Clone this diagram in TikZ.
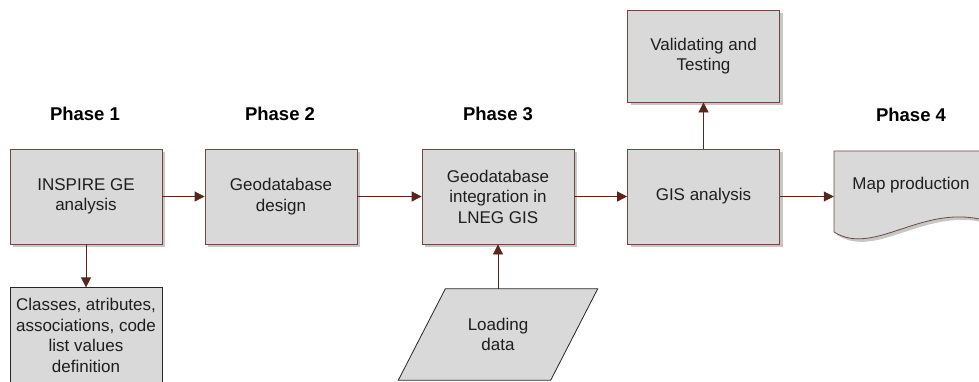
\documentclass[tikz,border=0pt]{standalone}
\usepackage{fontspec}
\setmainfont{Liberation Sans}
\usepackage{xcolor}
\usetikzlibrary{positioning}
\usetikzlibrary{arrows.meta,shadows,backgrounds}

\definecolor{boxgray}{RGB}{217,217,217}
\definecolor{edgebrown}{RGB}{110,72,62}
\definecolor{arrowbrown}{RGB}{88,38,28}
\definecolor{inkgray}{RGB}{30,30,30}

\tikzset{
  stage/.style={draw=edgebrown, line width=0.8pt, fill=boxgray,
    minimum width=152pt, minimum height=95pt, align=center,
    text=inkgray, font=\fontsize{17}{20.5}\selectfont,
    drop shadow={shadow xshift=3pt, shadow yshift=-3pt, fill=black!22, opacity=1}},
  plainbox/.style={draw=black!85, line width=0.8pt, fill=boxgray,
    minimum width=152pt, minimum height=95pt, align=center,
    text=inkgray, font=\fontsize{17}{20.5}\selectfont},
  phase/.style={font=\fontsize{18.5}{22}\selectfont\bfseries, text=black},
  flow/.style={-{Triangle[length=10pt,width=10pt]}, draw=arrowbrown, line width=0.8pt},
}

\begin{document}
\begin{tikzpicture}[x=1pt,y=-1pt]
\useasboundingbox (0,0) rectangle (979,381);
\clip (0,0) rectangle (979,381);

% phase titles
\node[phase] (ph1) at (85,114) {Phase 1};
\node[phase] (ph2) at (280,114) {Phase 2};
\node[phase] (ph3) at (498,114) {Phase 3};
\node[phase] (ph4) at (911,115) {Phase 4};

% main chain
\node[stage] (inspire) at (86,196.5) {INSPIRE GE\\analysis};
\node[stage] (design) at (281,196.5) {Geodatabase\\design};
\node[stage] (integ) at (498,196.5) {Geodatabase\\integration in\\LNEG GIS};
\node[stage] (gis) at (703.5,196.5) {GIS analysis};
\node[stage, minimum height=92pt] (valid) at (703.5,56) {Validating and\\Testing};
\node[plainbox, below=43pt of inspire] (classes)
  {Classes, atributes,\\associations, code\\list values\\definition};

% input data
\node[align=center, text=inkgray, font=\fontsize{17}{20.5}\selectfont,
  minimum width=152pt, minimum height=91pt] (load) at (498,334.5) {Loading\\data};
\begin{scope}[on background layer]
\filldraw[draw=black!85, fill=boxgray, line width=0.8pt]
  ([xshift=23.5pt]load.north west) -- ([xshift=23.5pt]load.north east)
  -- ([xshift=-23.5pt]load.south east) -- ([xshift=-23.5pt]load.south west) -- cycle;
\end{scope}

% output document
\node[text=inkgray, font=\fontsize{17}{20.5}\selectfont,
  minimum width=154pt] (map) at (911,185) {Map production};
\begin{scope}[on background layer]
\filldraw[draw=edgebrown, fill=boxgray, line width=0.8pt,
  drop shadow={shadow xshift=3pt, shadow yshift=-3pt, fill=black!22, opacity=1}]
  (834,151) -- (990,151) -- (990,222)
  .. controls (925,200) and (875,258) .. (834,232) -- cycle;
\end{scope}

% connectors
\draw[flow] (inspire) -- (design);
\draw[flow] (design) -- (integ);
\draw[flow] (integ) -- (gis);
\draw[flow] (gis.east) -- (gis.east -| map.west);
\draw[flow] (gis) -- (valid);
\draw[flow] (inspire) -- (classes);
\draw[flow] (load) -- (integ);
\end{tikzpicture}
\end{document}
